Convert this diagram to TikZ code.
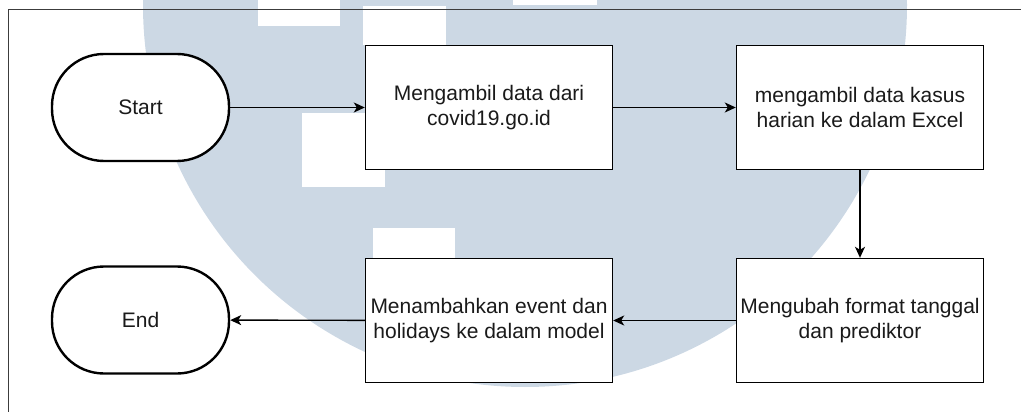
\documentclass[tikz,border=0pt]{standalone}
\usepackage{fontspec}
\setmainfont{Liberation Sans}
\usetikzlibrary{arrows.meta}
\definecolor{wmark}{RGB}{204,216,228}
\definecolor{ink}{RGB}{26,26,26}
\definecolor{frameline}{RGB}{60,60,60}
\begin{document}
\begin{tikzpicture}[x=1pt,y=-1pt,
  every node/.style={font=\fontsize{21}{25}\selectfont, text=ink},
  process/.style={draw=black, line width=1.4pt, fill=white,
    minimum width=247pt, minimum height=124pt, align=center, inner sep=0pt},
  terminal/.style={draw=black, line width=2.4pt, fill=white,
    rounded corners=52pt, minimum width=177pt, minimum height=107pt, inner sep=0pt},
  flow/.style={-{Stealth[length=11pt,width=10pt,inset=3pt]}, line width=1.4pt, draw=black},
  wbox/.style={fill=white, draw=none}
]
\useasboundingbox (0,0) rectangle (1021,412);

% background logo
\begin{scope}
  \clip (0,0) rectangle (1021,412);
  \fill[wmark] (525,5) circle[radius=382];
  \fill[wbox] (258,0) rectangle (340,26);
  \fill[wbox] (363,6) rectangle (446,45);
  \fill[wbox] (302,113) rectangle (385,187);
  \fill[wbox] (513,0) rectangle (597,5);
  \fill[wbox] (373,228) rectangle (455,258);
\end{scope}

% page frame
\draw[frameline, line width=1pt] (1021,10) -- (8,10) -- (8,412);

% flow steps
\node[terminal] (start) at (140.5,107.5) {Start};
\node[process]  (ambil) at (489,107.5) {Mengambil data dari\\covid19.go.id};
\node[process]  (excel) at (860,107.5) {mengambil data kasus\\harian ke dalam Excel};
\node[process]  (ubah)  at (860,320.5) {Mengubah format tanggal\\dan prediktor};
\node[process]  (tambah) at (489,320.5) {Menambahkan event dan\\holidays ke dalam model};
\node[terminal] (end)   at (140.5,320) {End};

% connectors
\draw[flow] (start) -- (ambil);
\draw[flow] (ambil) -- (excel);
\draw[flow] (excel) -- (ubah);
\draw[flow] (ubah) -- (tambah);
\draw[flow] (tambah) -- (end);
\end{tikzpicture}
\end{document}
